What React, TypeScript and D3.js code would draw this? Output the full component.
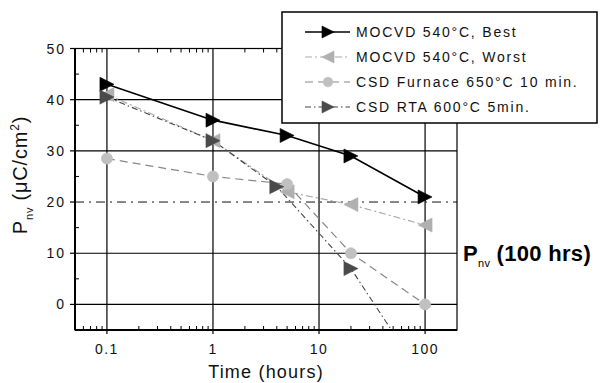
import React from "react";
import * as d3 from "d3";

// Retained polarization vs. retention time
const hours = [0.1, 1, 5, 20, 100];
const rtaHours = [0.1, 1, 4, 20, 100];
const mocvdBest = [43, 36, 33, 29, 21];
const mocvdWorst = [41, 32, 22, 19.5, 15.5];
const csdFurnace = [28.5, 25, 23.5, 10, 0];
const csdRta = [40.5, 32, 23, 7, -15];

const legendLabels = [
  "MOCVD 540°C, Best",
  "MOCVD 540°C, Worst",
  "CSD Furnace 650°C 10 min.",
  "CSD RTA 600°C 5min.",
];
const xTicks = [0.1, 1, 10, 100];
const xTickLabels = ["0.1", "1", "10", "100"];
const yTicks = [0, 10, 20, 30, 40, 50];
const solidGrid = [0, 10, 30, 40];
const threshold = 20;

const W = 600;
const H = 383;
const M = { left: 75, right: 457, top: 48.5, bottom: 330 };

const x = d3.scaleLog().domain([0.05, 200]).range([M.left, M.right]);
const y = d3.scaleLinear().domain([-5, 50]).range([M.bottom, M.top]);

const FONT = "'Liberation Sans', Arial, sans-serif";

type Marker = "tri-right" | "tri-left" | "circle";

function MarkerShape({ kind, cx, cy, fill, stroke, size = 7 }: { kind: Marker; cx: number; cy: number; fill: string; stroke: string; size?: number }) {
  if (kind === "circle") {
    return <circle cx={cx} cy={cy} r={size * 0.8} fill={fill} stroke={stroke} strokeWidth={0.6} />;
  }
  const w = size, h = size;
  const pts =
    kind === "tri-right"
      ? [[cx - w, cy - h], [cx + w, cy], [cx - w, cy + h]]
      : [[cx + w, cy - h], [cx - w, cy], [cx + w, cy + h]];
  return <polygon points={pts.map((p) => p.join(",")).join(" ")} fill={fill} stroke={stroke} strokeWidth={0.6} />;
}

const series = [
  { label: legendLabels[0], xs: hours, ys: mocvdBest, color: "#000", markerFill: "#000", dash: "", width: 1.6, marker: "tri-right" as Marker },
  { label: legendLabels[1], xs: hours, ys: mocvdWorst, color: "#aaa", markerFill: "#b0b0b0", dash: "7,3,2,3", width: 1.2, marker: "tri-left" as Marker },
  { label: legendLabels[2], xs: hours, ys: csdFurnace, color: "#888", markerFill: "#c0c0c0", dash: "8,5", width: 1.2, marker: "circle" as Marker },
  { label: legendLabels[3], xs: rtaHours, ys: csdRta, color: "#444", markerFill: "#4a4a4a", dash: "6,3,1.5,3", width: 1.1, marker: "tri-right" as Marker },
];

export default function App() {
  const line = d3.line<[number, number]>().x((d) => x(d[0])).y((d) => y(d[1]));
  const minor: number[] = [];
  for (const dec of [0.01, 0.1, 1, 10, 100]) {
    for (let k = 2; k <= 9; k++) {
      const v = dec * k;
      if (v > 0.05 && v < 200) minor.push(v);
    }
  }
  const yMinor = d3.range(-5, 50, 5).filter((v) => v % 10 !== 0);

  return (
    <svg width={W} height={H} style={{ position: "absolute", left: 0, top: 0, background: "#fff" }} fontFamily={FONT}>
      <defs>
        <clipPath id="plot">
          <rect x={M.left} y={M.top} width={M.right - M.left} height={M.bottom - M.top} />
        </clipPath>
      </defs>
      <rect width={W} height={H} fill="#fff" />

      {/* grid */}
      {xTicks.map((t) => (
        <line key={"gx" + t} x1={x(t)} x2={x(t)} y1={M.top} y2={M.bottom} stroke="#000" strokeWidth={1.2} />
      ))}
      {solidGrid.map((t) => (
        <line key={"gy" + t} x1={M.left} x2={M.right} y1={y(t)} y2={y(t)} stroke="#000" strokeWidth={1.2} />
      ))}
      <line x1={M.left} x2={M.right} y1={y(threshold)} y2={y(threshold)} stroke="#111" strokeWidth={1} strokeDasharray="9,5,2,5" />

      {/* frame */}
      <rect x={M.left} y={M.top} width={M.right - M.left} height={M.bottom - M.top} fill="none" stroke="#000" strokeWidth={1.2} />
      <line x1={M.left} x2={M.left} y1={M.top} y2={M.bottom} stroke="#000" strokeWidth={2} />
      <line x1={M.left} x2={M.right} y1={M.bottom} y2={M.bottom} stroke="#000" strokeWidth={2} />

      {/* x ticks */}
      {minor.map((t) => (
        <g key={"mx" + t}>
          <line x1={x(t)} x2={x(t)} y1={M.bottom} y2={M.bottom - 4} stroke="#000" strokeWidth={1} />
          <line x1={x(t)} x2={x(t)} y1={M.top} y2={M.top + 4} stroke="#000" strokeWidth={1} />
        </g>
      ))}
      {xTicks.map((t, i) => (
        <g key={"tx" + t}>
          <line x1={x(t)} x2={x(t)} y1={M.bottom} y2={M.bottom + 4} stroke="#000" strokeWidth={1.2} />
          <text x={x(t)} y={354} textAnchor="middle" fontSize={14} letterSpacing={1.4} fill="#111">
            {xTickLabels[i]}
          </text>
        </g>
      ))}

      {/* y ticks */}
      {yMinor.map((t) => (
        <line key={"my" + t} x1={M.left} x2={M.left + 4} y1={y(t)} y2={y(t)} stroke="#000" strokeWidth={1} />
      ))}
      {yTicks.map((t) => (
        <g key={"ty" + t}>
          <line x1={M.left - 5} x2={M.left} y1={y(t)} y2={y(t)} stroke="#000" strokeWidth={1.2} />
          <text x={66} y={y(t) + 5} textAnchor="end" fontSize={14} letterSpacing={2} fill="#111">
            {t}
          </text>
        </g>
      ))}

      {/* series */}
      <g clipPath="url(#plot)">
        {series.map((s) => (
          <path
            key={s.label}
            d={line(s.xs.map((v, i) => [v, s.ys[i]] as [number, number])) || ""}
            fill="none"
            stroke={s.color}
            strokeWidth={s.width}
            strokeDasharray={s.dash}
          />
        ))}
        {series.map((s) =>
          s.xs.map((v, i) => (
            <MarkerShape key={s.label + i} kind={s.marker} cx={x(v)} cy={y(s.ys[i])} fill={s.markerFill} stroke={s.markerFill} />
          ))
        )}
      </g>

      {/* axis titles */}
      <text x={266} y={378} textAnchor="middle" fontSize={18} letterSpacing={1.2} fill="#111">
        Time (hours)
      </text>
      <text transform="translate(27,175) rotate(-90)" textAnchor="middle" fontSize={20} letterSpacing={0.8} fill="#111">
        P<tspan fontSize={11} dy={6}>nv</tspan>
        <tspan dy={-6}> (μC/cm</tspan>
        <tspan fontSize={12} dy={-8}>2</tspan>
        <tspan dy={8}>)</tspan>
      </text>

      {/* threshold label */}
      <text x={463} y={261} fontSize={22} fontWeight="bold" letterSpacing={0.3} fill="#000">
        P<tspan fontSize={11} fontWeight="normal" dy={6}>nv</tspan>
        <tspan dy={-6}> (100 hrs)</tspan>
      </text>

      {/* legend */}
      <rect x={282} y={12} width={315} height={111} fill="#fff" stroke="#000" strokeWidth={1.5} />
      {series.map((s, i) => {
        const ly = 32 + i * 25;
        return (
          <g key={"lg" + i}>
            <line x1={305} x2={350} y1={ly} y2={ly} stroke={s.color} strokeWidth={s.width} strokeDasharray={s.dash} />
            <MarkerShape kind={s.marker} cx={328} cy={ly} fill={s.markerFill} stroke={s.markerFill} size={6} />
            <text x={356} y={ly + 5} fontSize={14} letterSpacing={1.8} fill="#111">
              {s.label}
            </text>
          </g>
        );
      })}
    </svg>
  );
}
